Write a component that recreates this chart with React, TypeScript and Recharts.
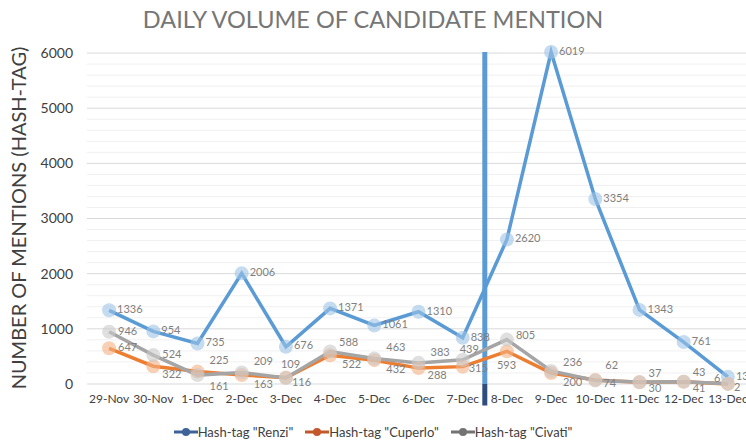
import React from 'react';
import { LabelList, Line, LineChart, ReferenceLine, XAxis, YAxis } from 'recharts';

const days = ['29-Nov', '30-Nov', '1-Dec', '2-Dec', '3-Dec', '4-Dec', '5-Dec', '6-Dec', '7-Dec', '8-Dec', '9-Dec', '10-Dec', '11-Dec', '12-Dec', '13-Dec'];
const renzi = [1336, 954, 735, 2006, 676, 1371, 1061, 1310, 838, 2620, 6019, 3354, 1343, 761, 130];
const cuperlo = [647, 322, 225, 163, 116, 522, 432, 288, 315, 593, 200, 74, 30, 41, 2];
const civati = [946, 524, 161, 209, 109, 588, 463, 383, 439, 805, 236, 62, 37, 43, 6];
const yTicks = [0, 1000, 2000, 3000, 4000, 5000, 6000];
const minorGrid = [200, 400, 600, 800, 1200, 1400, 1600, 1800, 2200, 2400, 2600, 2800, 3200, 3400, 3600, 3800, 4200, 4400, 4600, 4800, 5200, 5400, 5600, 5800];

const data = days.map((day, i) => ({
  idx: i,
  day,
  renzi: renzi[i],
  cuperlo: cuperlo[i],
  civati: civati[i],
}));

// label offsets from the point, tuned by eye
const renziOffsets = days.map(() => [8, 0]);
const civatiOffsets = [[9, 0], [9, 0], [12, 12], [12, -10], [-5, -13], [9, -8], [12, -10], [12, -10], [-3, -10], [9, -3], [12, -8], [10, -14], [9, -8], [9, -8], [-14, -4]];
const cuperloOffsets = [[9, 0], [9, 9], [12, -10], [12, 10], [6, 6], [12, 10], [12, 10], [9, 8], [6, 3], [-10, 15], [12, 10], [8, 4], [9, 7], [9, 7], [6, 4]];

const makeLabel = (offsets: number[][]) => (props: any) => {
  const { x, y, value, index } = props;
  const [dx, dy] = offsets[index] || [8, 0];
  return (
    <text x={x + dx} y={y + dy} fill="#7f7f7f" fontSize={11} dominantBaseline="middle" textAnchor="start">
      {value}
    </text>
  );
};

const legendItems = [
  { name: 'Hash-tag "Renzi"', color: '#3d6399' },
  { name: 'Hash-tag "Cuperlo"', color: '#c2582c' },
  { name: 'Hash-tag "Civati"', color: '#727272' },
];

const dot = (color: string) => ({ r: 7, fill: color, fillOpacity: 0.6, stroke: 'none' });

export default function App() {
  return (
    <div style={{ position: 'absolute', left: 0, top: 0, width: 746, height: 443, overflow: 'hidden', background: '#fff', fontFamily: 'Lato, sans-serif' }}>
      <div style={{ position: 'absolute', top: 5, left: 0, width: 746, textAlign: 'center', fontSize: 23.5, color: '#767676' }}>
        DAILY VOLUME OF CANDIDATE MENTION
      </div>
      <div
        style={{
          position: 'absolute', left: 18, top: 218, transform: 'translate(-50%, -50%) rotate(-90deg)',
          whiteSpace: 'nowrap', fontSize: 20, color: '#404040',
        }}
      >
        NUMBER OF MENTIONS (HASH-TAG)
      </div>
      <LineChart width={770} height={443} data={data} margin={{ top: 52, right: 20, bottom: 0, left: 0 }}>
        {minorGrid.map(v => (
          <ReferenceLine key={v} y={v} stroke="#f0f0f0" strokeWidth={1} />
        ))}
        {yTicks.map(v => (
          <ReferenceLine key={`m${v}`} y={v} stroke="#d9d9d9" strokeWidth={1} />
        ))}
        <XAxis
          type="number"
          dataKey="idx"
          domain={[-0.5, 14.5]}
          ticks={days.map((_, i) => i)}
          tickFormatter={(v: number) => days[v]}
          axisLine={false}
          tickLine={false}
          tickSize={0}
          tickMargin={10}
          interval={0}
          height={59}
          tick={{ fontSize: 12, fill: '#404040' }}
        />
        <YAxis
          domain={[0, 6000]}
          ticks={yTicks}
          axisLine={false}
          tickLine={false}
          tickSize={0}
          tickMargin={14}
          width={87}
          tick={{ fontSize: 14, fill: '#404040' }}
        />
        <ReferenceLine x={8.5} stroke="#5b9bd5" strokeWidth={5} />
        <ReferenceLine
          segment={[{ x: 8.5, y: 0 }, { x: 8.5, y: -390 }]}
          stroke="#2f4e7c"
          strokeWidth={5}
          ifOverflow="visible"
        />
        <Line dataKey="renzi" stroke="#5b9bd5" strokeWidth={3.5} dot={dot('#9dc3e6')} activeDot={false} isAnimationActive={false}>
          <LabelList dataKey="renzi" content={makeLabel(renziOffsets)} />
        </Line>
        <Line dataKey="cuperlo" stroke="#ed7d31" strokeWidth={3.5} dot={dot('#f4b183')} activeDot={false} isAnimationActive={false}>
          <LabelList dataKey="cuperlo" content={makeLabel(cuperloOffsets)} />
        </Line>
        <Line dataKey="civati" stroke="#a5a5a5" strokeWidth={3.5} dot={dot('#c9c9c9')} activeDot={false} isAnimationActive={false}>
          <LabelList dataKey="civati" content={makeLabel(civatiOffsets)} />
        </Line>
      </LineChart>
      <div style={{ position: 'absolute', left: 0, top: 424, width: 746, display: 'flex', justifyContent: 'center', gap: 12, fontSize: 13, color: '#404040' }}>
        {legendItems.map(item => (
          <div key={item.name} style={{ display: 'flex', alignItems: 'center' }}>
            <svg width={24} height={10}>
              <line x1={0} y1={5} x2={24} y2={5} stroke={item.color} strokeWidth={3} />
              <circle cx={12} cy={5} r={4} fill={item.color} />
            </svg>
            <span>{item.name}</span>
          </div>
        ))}
      </div>
    </div>
  );
}
